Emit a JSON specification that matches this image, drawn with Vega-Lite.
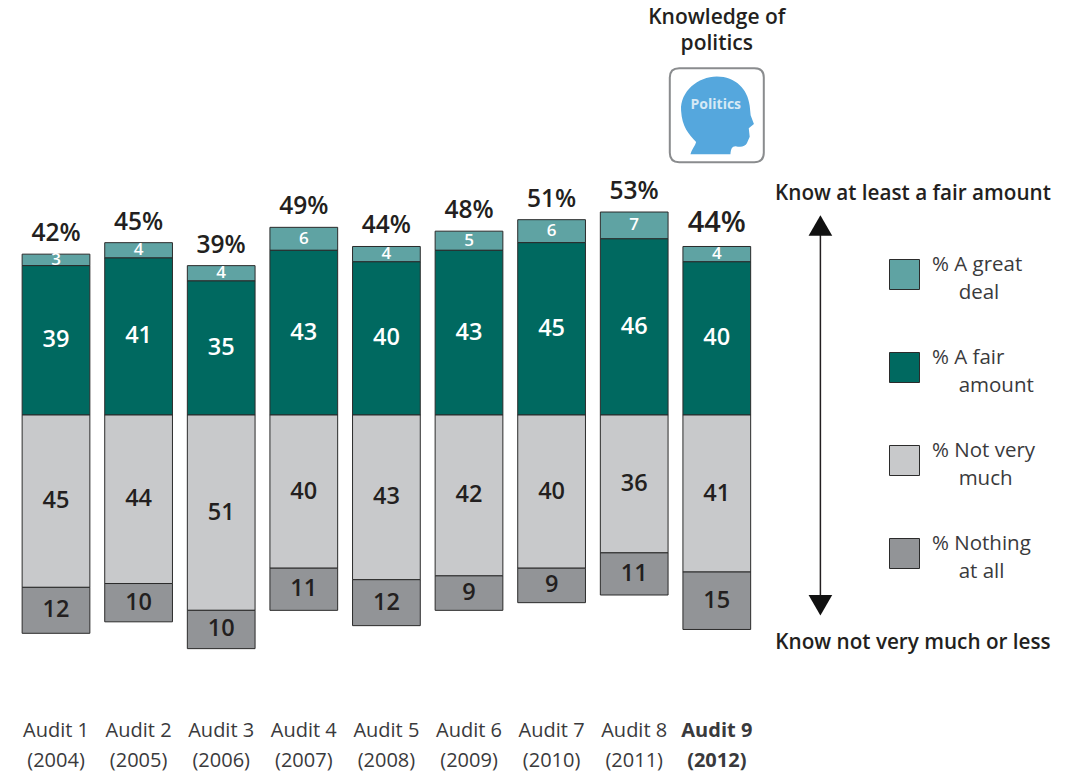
{"$schema":"https://vega.github.io/schema/vega-lite/v6.json","width":1066,"height":715,"autosize":"none","padding":{"left":0,"top":0,"right":0,"bottom":59},"background":"white","view":{"stroke":null},"config":{"font":"Open Sans","text":{"font":"Open Sans"},"style":{"guide-label":{"lineHeight":28}}},
"datasets":{"bars":[
{"audit":"Audit 1 (2004)","series":"% A great|~deal","value":3,"pct":3,"rank":2},{"audit":"Audit 1 (2004)","series":"% A fair|~amount","value":39,"pct":39,"rank":1},{"audit":"Audit 1 (2004)","series":"% Not very|~much","value":-45,"pct":45,"rank":1},{"audit":"Audit 1 (2004)","series":"% Nothing|~at all","value":-12,"pct":12,"rank":2},
{"audit":"Audit 2 (2005)","series":"% A great|~deal","value":4,"pct":4,"rank":2},{"audit":"Audit 2 (2005)","series":"% A fair|~amount","value":41,"pct":41,"rank":1},{"audit":"Audit 2 (2005)","series":"% Not very|~much","value":-44,"pct":44,"rank":1},{"audit":"Audit 2 (2005)","series":"% Nothing|~at all","value":-10,"pct":10,"rank":2},
{"audit":"Audit 3 (2006)","series":"% A great|~deal","value":4,"pct":4,"rank":2},{"audit":"Audit 3 (2006)","series":"% A fair|~amount","value":35,"pct":35,"rank":1},{"audit":"Audit 3 (2006)","series":"% Not very|~much","value":-51,"pct":51,"rank":1},{"audit":"Audit 3 (2006)","series":"% Nothing|~at all","value":-10,"pct":10,"rank":2},
{"audit":"Audit 4 (2007)","series":"% A great|~deal","value":6,"pct":6,"rank":2},{"audit":"Audit 4 (2007)","series":"% A fair|~amount","value":43,"pct":43,"rank":1},{"audit":"Audit 4 (2007)","series":"% Not very|~much","value":-40,"pct":40,"rank":1},{"audit":"Audit 4 (2007)","series":"% Nothing|~at all","value":-11,"pct":11,"rank":2},
{"audit":"Audit 5 (2008)","series":"% A great|~deal","value":4,"pct":4,"rank":2},{"audit":"Audit 5 (2008)","series":"% A fair|~amount","value":40,"pct":40,"rank":1},{"audit":"Audit 5 (2008)","series":"% Not very|~much","value":-43,"pct":43,"rank":1},{"audit":"Audit 5 (2008)","series":"% Nothing|~at all","value":-12,"pct":12,"rank":2},
{"audit":"Audit 6 (2009)","series":"% A great|~deal","value":5,"pct":5,"rank":2},{"audit":"Audit 6 (2009)","series":"% A fair|~amount","value":43,"pct":43,"rank":1},{"audit":"Audit 6 (2009)","series":"% Not very|~much","value":-42,"pct":42,"rank":1},{"audit":"Audit 6 (2009)","series":"% Nothing|~at all","value":-9,"pct":9,"rank":2},
{"audit":"Audit 7 (2010)","series":"% A great|~deal","value":6,"pct":6,"rank":2},{"audit":"Audit 7 (2010)","series":"% A fair|~amount","value":45,"pct":45,"rank":1},{"audit":"Audit 7 (2010)","series":"% Not very|~much","value":-40,"pct":40,"rank":1},{"audit":"Audit 7 (2010)","series":"% Nothing|~at all","value":-9,"pct":9,"rank":2},
{"audit":"Audit 8 (2011)","series":"% A great|~deal","value":7,"pct":7,"rank":2},{"audit":"Audit 8 (2011)","series":"% A fair|~amount","value":46,"pct":46,"rank":1},{"audit":"Audit 8 (2011)","series":"% Not very|~much","value":-36,"pct":36,"rank":1},{"audit":"Audit 8 (2011)","series":"% Nothing|~at all","value":-11,"pct":11,"rank":2},
{"audit":"Audit 9 (2012)","series":"% A great|~deal","value":4,"pct":4,"rank":2},{"audit":"Audit 9 (2012)","series":"% A fair|~amount","value":40,"pct":40,"rank":1},{"audit":"Audit 9 (2012)","series":"% Not very|~much","value":-41,"pct":41,"rank":1},{"audit":"Audit 9 (2012)","series":"% Nothing|~at all","value":-15,"pct":15,"rank":2}
],
"totals":[{"audit":"Audit 1 (2004)","value":42,"label":"42%"},{"audit":"Audit 2 (2005)","value":45,"label":"45%"},{"audit":"Audit 3 (2006)","value":39,"label":"39%"},{"audit":"Audit 4 (2007)","value":49,"label":"49%"},{"audit":"Audit 5 (2008)","value":44,"label":"44%"},{"audit":"Audit 6 (2009)","value":48,"label":"48%"},{"audit":"Audit 7 (2010)","value":51,"label":"51%"},{"audit":"Audit 8 (2011)","value":53,"label":"53%"},{"audit":"Audit 9 (2012)","value":44,"label":"44%"}]},
"encoding":{"x":{"field":"audit","type":"nominal","sort":null,"title":null,
"scale":{"domain":["Audit 1 (2004)","Audit 2 (2005)","Audit 3 (2006)","Audit 4 (2007)","Audit 5 (2008)","Audit 6 (2009)","Audit 7 (2010)","Audit 8 (2011)","Audit 9 (2012)","arrow","side","side2","side3"],"range":[14.7,1088.5],"paddingInner":0.18,"paddingOuter":0.09},
"axis":{"values":["Audit 1 (2004)","Audit 2 (2005)","Audit 3 (2006)","Audit 4 (2007)","Audit 5 (2008)","Audit 6 (2009)","Audit 7 (2010)","Audit 8 (2011)","Audit 9 (2012)"],"domain":false,"ticks":false,"grid":false,"labelAngle":0,"labelFontSize":20,"labelColor":"#3a3a3c","labelFont":"Open Sans","labelLineHeight":30,"labelPadding":5,"labelOverlap":false,"labelExpr":"[slice(datum.value,0,7),slice(datum.value,8)]","labelFontWeight":{"condition":{"test":"datum.value=='Audit 9 (2012)'","value":"bold"},"value":"normal"}}},
"y":{"field":"value","type":"quantitative","stack":null,"axis":null,"scale":{"domain":[-78.33,108.36],"nice":false,"zero":false}}},
"layer":[
{"data":{"name":"bars"},"mark":{"type":"bar","stroke":"#2b2b2b","strokeWidth":1},
"encoding":{"y":{"field":"value","type":"quantitative","stack":"zero","axis":null},"order":{"field":"rank"},"color":{"field":"series","type":"nominal","scale":{"domain":["% A great|~deal","% A fair|~amount","% Not very|~much","% Nothing|~at all"],"range":["#5fa3a3","#006960","#c8c9cb","#929497"]},"legend":{"orient":"none","legendX":889,"legendY":259,"title":null,"symbolType":"square","symbolSize":900,"symbolStrokeColor":"#2b2b2b","symbolStrokeWidth":1,"symbolOpacity":1,"labelFontSize":20.5,"labelColor":"#3a3a3c","labelFont":"Open Sans","labelLimit":200,"labelOffset":12,"labelBaseline":"bottom","rowPadding":44,"labelExpr":"split(replace(datum.label,'~','\u2060\u00a0\u00a0\u00a0\u00a0\u00a0'),'|')"}}}},
{"data":{"name":"bars"},"mark":{"type":"text","fontWeight":600},
"encoding":{"y":{"field":"value","type":"quantitative","stack":"zero","bandPosition":0.5,"axis":null},"order":{"field":"rank"},"text":{"field":"pct"},"size":{"condition":{"test":"datum.rank==2 && datum.value>0","value":17},"value":23.5},"color":{"condition":{"test":"datum.value>0","value":"#ffffff"},"value":"#231f20"}}},
{"data":{"name":"totals"},"mark":{"type":"text","fontWeight":600,"baseline":"bottom","dy":-8,"color":"#231f20"},
"encoding":{"text":{"field":"label"},"size":{"condition":{"test":"datum.audit=='Audit 9 (2012)'","value":29},"value":24.5}}},
{"data":{"values":[{"marker":"baseline"}]},"mark":{"type":"rule","stroke":"#2b2b2b","strokeWidth":1.2},"encoding":{"x":null,"y":{"datum":0}}},
{"data":{"values":[{"audit":"arrow","value":49,"value2":-49}]},"mark":{"type":"rule","stroke":"#231f20","strokeWidth":1.5,"xOffset":21},"encoding":{"y2":{"field":"value2"}}},
{"data":{"values":[{"audit":"arrow","value":49.5,"dir":"up"},{"audit":"arrow","value":-49.7,"dir":"down"}]},"mark":{"type":"point","filled":true,"color":"#111111","opacity":1,"size":560,"xOffset":21},"encoding":{"shape":{"field":"dir","type":"nominal","legend":null,"scale":{"domain":["up","down"],"range":["triangle-up","triangle-down"]}}}},
{"data":{"values":[{"audit":"side","value":57.6,"label":"Know at least a fair amount"},{"audit":"side","value":-59.6,"label":"Know not very much or less"}]},"mark":{"type":"text","fontWeight":600,"fontSize":20.7,"color":"#231f20","dx":31},"encoding":{"text":{"field":"label"}}},
{"data":{"values":[{"audit":"Audit 9 (2012)","value":103.6,"label":"Knowledge of"},{"audit":"Audit 9 (2012)","value":96.8,"label":"politics"}]},"mark":{"type":"text","fontWeight":600,"fontSize":21,"color":"#231f20"},"encoding":{"text":{"field":"label"}}},
{"data":{"values":[{"audit":"Audit 9 (2012)","value":78.3}]},"mark":{"type":"point","shape":"M-.8 -1H.8Q1 -1 1 -.8V.8Q1 1 .8 1H-.8Q-1 1 -1 .8V-.8Q-1 -1 -.8 -1Z","size":8836,"stroke":"#8a8c8e","strokeWidth":2,"fill":"#ffffff","opacity":1}},
{"data":{"values":[{"audit":"Audit 9 (2012)","value":78.3}]},"mark":{"type":"point","shape":"M-.56 .83C-.52 .7 -.46 .65 -.44 .57C-.6 .4 -.74 .25 -.76 -.1C-.78 -.5 -.4 -.82 0 -.82C.4 -.82 .66 -.55 .7 -.2L.72 0L.79 .19L.68 .28L.7 .46L.64 .6C.6 .68 .5 .68 .4 .66C.32 .66 .3 .72 .29 .83Z","size":8836,"filled":true,"fill":"#55a7dd","stroke":null,"opacity":1}},
{"data":{"values":[{"audit":"Audit 9 (2012)","value":81,"label":"Politics"}]},"mark":{"type":"text","fontWeight":"bold","fontSize":14,"color":"#d6e9f5","dx":-1},"encoding":{"text":{"field":"label"}}}
]}
